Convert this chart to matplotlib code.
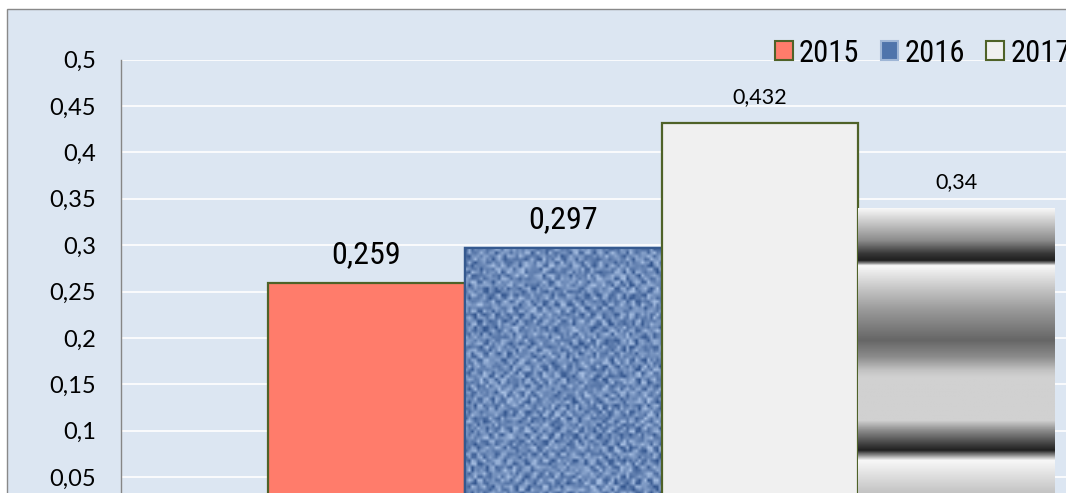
"""Clustered bar chart of one indicator for 2015-2018 (cropped Excel look)."""

import numpy as np
import matplotlib.pyplot as plt
from matplotlib.patches import Rectangle
from matplotlib.ticker import FixedLocator, FuncFormatter

years = ["2015", "2016", "2017", "2018"]
values = [0.259, 0.297, 0.432, 0.34]
value_labels = ["0,259", "0,297", "0,432", "0,34"]
y_ticks = [0.05, 0.1, 0.15, 0.2, 0.25, 0.3, 0.35, 0.4, 0.45, 0.5]

W, H, DPI = 1066, 493, 100
BG = "#dce6f2"
GREEN = "#4f6228"
NARROW = ["Liberation Sans Narrow", "Roboto Condensed", "Open Sans Condensed",
          "Arial Narrow", "Liberation Sans"]
CALIBRI_LIKE = ["Lato", "DejaVu Sans"]

# gradient stops for the last bar: (fraction below bar top, gray level)
grad_stops = [
    (0.000, 0.97), (0.101, 0.55), (0.143, 0.22), (0.165, 0.12),
    (0.174, 0.55), (0.181, 0.97), (0.260, 0.76), (0.323, 0.60),
    (0.418, 0.40), (0.472, 0.55), (0.513, 0.76), (0.536, 0.82),
    (0.672, 0.82), (0.704, 0.55), (0.745, 0.27), (0.767, 0.13),
    (0.783, 0.55), (0.799, 0.97), (0.894, 0.78), (1.000, 0.60),
]


def px_x(x):
    return x / W


def px_y(y):
    return 1 - y / H


def denim_texture(rows=85, cols=66):
    yy, xx = np.mgrid[0:rows, 0:cols]
    h = np.sin(xx * 12.9898 + yy * 78.233) * 43758.5453
    noise = h - np.floor(h)
    weave = 0.5 + 0.35 * np.sign(np.sin(xx * 1.6)) * np.sign(np.sin(yy * 1.6))
    t = np.clip(0.6 * noise + 0.4 * weave, 0, 1)
    dark = np.array([0.15, 0.29, 0.52])
    light = np.array([0.70, 0.79, 0.92])
    return dark + (light - dark) * t[..., None]


fig = plt.figure(figsize=(W / DPI, H / DPI), dpi=DPI, facecolor="white")

# chart area (extends past the cropped right and bottom edges)
fig.patches.append(
    Rectangle((px_x(7), -0.2), 1.5, px_y(9) + 0.2, transform=fig.transFigure,
              facecolor=BG, edgecolor="#898989", linewidth=1.0, zorder=-10)
)

ax = fig.add_axes([px_x(121), -0.0619, 1.0141, 0.9412])
ax.set_facecolor(BG)
ax.patch.set_alpha(0)

n = len(values)
width = 0.1822
offsets = (np.arange(n) - (n - 1) / 2) * width

faces = ["#ff7c6b", "#5b7fb6", "#f0f0f0", "#d0d0d0"]
edges = [GREEN, "#35598f", GREEN, "none"]
bars = []
for i in range(n):
    b = ax.bar(offsets[i], values[i], width, color=faces[i], edgecolor=edges[i],
               linewidth=1.6 if edges[i] != "none" else 0, zorder=2 + i * 0.1)
    bars.append(b[0])

# textured fill for 2016
b = bars[1]
x0, w, h = b.get_x(), b.get_width(), b.get_height()
im = ax.imshow(denim_texture(), extent=[x0, x0 + w, 0, h], aspect="auto",
               interpolation="bilinear", zorder=2.15)
im.set_clip_path(b)
ax.bar(offsets[1], values[1], width, color="none", edgecolor="#35598f",
       linewidth=1.6, zorder=2.16)

# striped gradient fill for 2018
b = bars[3]
x0, w, h = b.get_x(), b.get_width(), b.get_height()
fr = np.linspace(0, 1, 400)
levels = np.interp(fr, [s[0] for s in grad_stops], [s[1] for s in grad_stops])
ax.imshow(levels[:, None], extent=[x0, x0 + w, 0, h], aspect="auto", cmap="gray",
          vmin=0, vmax=1, interpolation="bilinear", zorder=2.35)

ax.set_xlim(-0.5, 0.5)
ax.set_ylim(0, 0.5)
ax.set_aspect("auto")
ax.yaxis.set_major_locator(FixedLocator(y_ticks))
ax.yaxis.set_major_formatter(
    FuncFormatter(lambda v, _: f"{round(v, 3):g}".replace(".", ","))
)
ax.grid(axis="y", color="white", linewidth=1.2, zorder=1)
ax.set_axisbelow(True)
ax.set_xticks([])
ax.tick_params(axis="y", length=0, pad=18, labelsize=17)
for lab in ax.get_yticklabels():
    lab.set_family(CALIBRI_LIKE)
for side in ("top", "right", "bottom"):
    ax.spines[side].set_visible(False)
ax.spines["left"].set_color("#868686")
ax.spines["left"].set_linewidth(1.0)

# data labels
label_fonts = [(NARROW, 23), (NARROW, 23), (CALIBRI_LIKE, 15.5), (CALIBRI_LIKE, 15.5)]
for i, (bar, text) in enumerate(zip(bars, value_labels)):
    fam, size = label_fonts[i]
    ax.annotate(text, (bar.get_x() + bar.get_width() / 2, bar.get_height()),
                xytext=(0, 14.4), textcoords="offset points", ha="center",
                va="baseline", fontsize=size, family=fam, color="black", zorder=5)

# legend
handles = [
    Rectangle((0, 0), 1, 1, facecolor=faces[0], edgecolor=GREEN, linewidth=1.5),
    Rectangle((0, 0), 1, 1, facecolor="#4f74ab", edgecolor="#9fb6d6", linewidth=1.5),
    Rectangle((0, 0), 1, 1, facecolor="#f0f0f0", edgecolor=GREEN, linewidth=1.5),
    Rectangle((0, 0), 1, 1, facecolor="#888888", edgecolor="none"),
]
fig.legend(handles, years, loc="center left",
           bbox_to_anchor=(px_x(775), px_y(53)), ncol=4, frameon=False,
           prop={"family": NARROW, "size": 22}, handlelength=0.58,
           handleheight=0.58, handletextpad=0.2, columnspacing=0.7,
           borderpad=0, borderaxespad=0)

fig.savefig("out.png", dpi=DPI, facecolor="white")
